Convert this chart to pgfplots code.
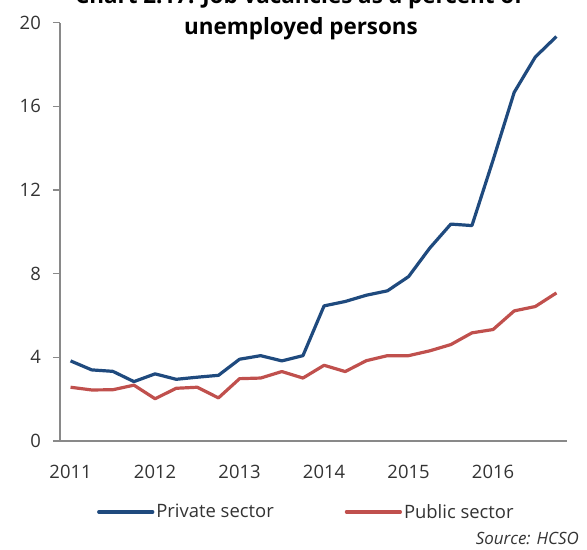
\documentclass[border=0pt]{standalone}
\usepackage{fontspec}
\setmainfont{Open Sans}
\usepackage{pgfplots}
\pgfplotsset{compat=1.18}
\definecolor{privblue}{HTML}{1F4A7E}
\definecolor{pubred}{HTML}{C0504D}
\definecolor{axgray}{HTML}{898989}
\definecolor{txt}{HTML}{333333}
\begin{document}
\begin{tikzpicture}[x=1bp,y=1bp]
\path[use as bounding box, clip] (0,0) rectangle (587,550);
\begin{axis}[
  at={(60bp,109bp)}, anchor=south west,
  scale only axis, width=507bp, height=418.3bp,
  xmin=-0.5, xmax=23.5, ymin=0, ymax=20,
  axis x line=bottom, axis y line=left,
  axis line style={-, draw=axgray, line width=1.5bp},
  ytick={0,4,...,20},
  xtick={0,4,8,12,16,20},
  xticklabels={2011,2012,2013,2014,2015,2016},
  tick align=outside, major tick length=7bp,
  xtick style={draw=none},
  ytick style={draw=axgray, line width=1.5bp},
  yticklabel style={anchor=east, inner sep=0pt, xshift=-12bp},
  xticklabel style={anchor=north, inner sep=0pt, yshift=-17bp},
  tick label style={font=\fontsize{18.5}{20}\selectfont, text=txt},
  /pgf/number format/assume math mode=true,
  legend columns=2,
  legend style={draw=none, fill=none, at={(0.486,-0.1697)}, anchor=center,
    font=\fontsize{18.5}{20}\selectfont, text=txt,
    /tikz/every even column/.append style={column sep=69bp}},
  legend image code/.code={\draw[#1, line cap=round] (0bp,0bp) -- (54bp,0bp);},
]
\addplot[privblue, line width=3.2bp, line join=round] coordinates {
(0,3.83) (1,3.40) (2,3.33) (3,2.84) (4,3.21) (5,2.95) (6,3.05) (7,3.14)
(8,3.91) (9,4.08) (10,3.83) (11,4.08) (12,6.46) (13,6.67) (14,6.97) (15,7.18)
(16,7.86) (17,9.22) (18,10.37) (19,10.30) (20,13.43) (21,16.67) (22,18.36) (23,19.34)
};
\addlegendentry{Private sector}
\addplot[pubred, line width=3.2bp, line join=round] coordinates {
(0,2.57) (1,2.44) (2,2.45) (3,2.67) (4,2.02) (5,2.52) (6,2.57) (7,2.06)
(8,2.98) (9,3.01) (10,3.32) (11,3.01) (12,3.62) (13,3.32) (14,3.84) (15,4.08)
(16,4.08) (17,4.31) (18,4.61) (19,5.17) (20,5.33) (21,6.22) (22,6.43) (23,7.08)
};
\addlegendentry{Public sector}
\end{axis}
\node[anchor=base, inner sep=0pt, font=\fontsize{22.5}{27}\selectfont\bfseries] at (299,546) {Chart 2.17: Job vacancies as a percent of};
\node[anchor=base, inner sep=0pt, font=\fontsize{22.5}{27}\selectfont\bfseries] at (301,515) {unemployed persons};
\node[anchor=base east, inner sep=0pt, font=\fontsize{17}{20}\selectfont\itshape, text=txt] at (579,5) {Source: HCSO};
\end{tikzpicture}
\end{document}
